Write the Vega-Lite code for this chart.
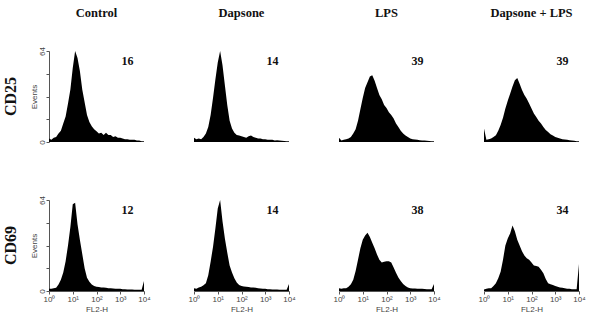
{
"$schema": "https://vega.github.io/schema/vega-lite/v6.json",
"padding": {"left": 3, "top": 6, "right": 2, "bottom": 5},
"background": "white",
"data": {"values": [
{"marker":"CD25","group":"Control","pct":"16"},
{"marker":"CD25","group":"Dapsone","pct":"14"},
{"marker":"CD25","group":"LPS","pct":"39"},
{"marker":"CD25","group":"Dapsone + LPS","pct":"39"},
{"marker":"CD69","group":"Control","pct":"12"},
{"marker":"CD69","group":"Dapsone","pct":"14"},
{"marker":"CD69","group":"LPS","pct":"38"},
{"marker":"CD69","group":"Dapsone + LPS","pct":"34"},
{"marker":"CD25","group":"Control","fl2":0,"events":2.5},{"marker":"CD25","group":"Control","fl2":0.1,"events":1.5},{"marker":"CD25","group":"Control","fl2":0.2,"events":3},{"marker":"CD25","group":"Control","fl2":0.3,"events":3.5},{"marker":"CD25","group":"Control","fl2":0.4,"events":6},{"marker":"CD25","group":"Control","fl2":0.5,"events":8},{"marker":"CD25","group":"Control","fl2":0.6,"events":13},{"marker":"CD25","group":"Control","fl2":0.7,"events":18},{"marker":"CD25","group":"Control","fl2":0.8,"events":27},{"marker":"CD25","group":"Control","fl2":0.9,"events":37},{"marker":"CD25","group":"Control","fl2":1.0,"events":52},{"marker":"CD25","group":"Control","fl2":1.1,"events":64},{"marker":"CD25","group":"Control","fl2":1.2,"events":59},{"marker":"CD25","group":"Control","fl2":1.3,"events":50},{"marker":"CD25","group":"Control","fl2":1.4,"events":37},{"marker":"CD25","group":"Control","fl2":1.5,"events":28},{"marker":"CD25","group":"Control","fl2":1.6,"events":19},{"marker":"CD25","group":"Control","fl2":1.7,"events":14},{"marker":"CD25","group":"Control","fl2":1.8,"events":11},{"marker":"CD25","group":"Control","fl2":1.9,"events":9},{"marker":"CD25","group":"Control","fl2":2.0,"events":7.5},{"marker":"CD25","group":"Control","fl2":2.1,"events":6},{"marker":"CD25","group":"Control","fl2":2.2,"events":6.5},{"marker":"CD25","group":"Control","fl2":2.3,"events":5},{"marker":"CD25","group":"Control","fl2":2.4,"events":6.5},{"marker":"CD25","group":"Control","fl2":2.5,"events":5},{"marker":"CD25","group":"Control","fl2":2.6,"events":5},{"marker":"CD25","group":"Control","fl2":2.7,"events":3.5},{"marker":"CD25","group":"Control","fl2":2.8,"events":4},{"marker":"CD25","group":"Control","fl2":2.9,"events":3},{"marker":"CD25","group":"Control","fl2":3.0,"events":3},{"marker":"CD25","group":"Control","fl2":3.1,"events":2.5},{"marker":"CD25","group":"Control","fl2":3.2,"events":2},{"marker":"CD25","group":"Control","fl2":3.3,"events":2},{"marker":"CD25","group":"Control","fl2":3.4,"events":1.5},{"marker":"CD25","group":"Control","fl2":3.5,"events":1.5},{"marker":"CD25","group":"Control","fl2":3.6,"events":1.5},{"marker":"CD25","group":"Control","fl2":3.7,"events":1},{"marker":"CD25","group":"Control","fl2":3.8,"events":1},{"marker":"CD25","group":"Control","fl2":3.9,"events":0.5},{"marker":"CD25","group":"Control","fl2":4.0,"events":0.5},
{"marker":"CD25","group":"Dapsone","fl2":0,"events":3},{"marker":"CD25","group":"Dapsone","fl2":0.1,"events":2},{"marker":"CD25","group":"Dapsone","fl2":0.2,"events":2.5},{"marker":"CD25","group":"Dapsone","fl2":0.3,"events":2},{"marker":"CD25","group":"Dapsone","fl2":0.4,"events":3.5},{"marker":"CD25","group":"Dapsone","fl2":0.5,"events":6},{"marker":"CD25","group":"Dapsone","fl2":0.6,"events":10.5},{"marker":"CD25","group":"Dapsone","fl2":0.7,"events":19},{"marker":"CD25","group":"Dapsone","fl2":0.8,"events":31},{"marker":"CD25","group":"Dapsone","fl2":0.9,"events":44},{"marker":"CD25","group":"Dapsone","fl2":1.0,"events":56},{"marker":"CD25","group":"Dapsone","fl2":1.1,"events":64},{"marker":"CD25","group":"Dapsone","fl2":1.2,"events":54},{"marker":"CD25","group":"Dapsone","fl2":1.3,"events":40},{"marker":"CD25","group":"Dapsone","fl2":1.4,"events":26},{"marker":"CD25","group":"Dapsone","fl2":1.5,"events":15},{"marker":"CD25","group":"Dapsone","fl2":1.6,"events":9.5},{"marker":"CD25","group":"Dapsone","fl2":1.7,"events":6.5},{"marker":"CD25","group":"Dapsone","fl2":1.8,"events":5},{"marker":"CD25","group":"Dapsone","fl2":1.9,"events":4.5},{"marker":"CD25","group":"Dapsone","fl2":2.0,"events":4},{"marker":"CD25","group":"Dapsone","fl2":2.1,"events":3.5},{"marker":"CD25","group":"Dapsone","fl2":2.2,"events":3},{"marker":"CD25","group":"Dapsone","fl2":2.3,"events":4},{"marker":"CD25","group":"Dapsone","fl2":2.4,"events":4.5},{"marker":"CD25","group":"Dapsone","fl2":2.5,"events":3.5},{"marker":"CD25","group":"Dapsone","fl2":2.6,"events":3},{"marker":"CD25","group":"Dapsone","fl2":2.7,"events":2.5},{"marker":"CD25","group":"Dapsone","fl2":2.8,"events":2.5},{"marker":"CD25","group":"Dapsone","fl2":2.9,"events":2},{"marker":"CD25","group":"Dapsone","fl2":3.0,"events":2},{"marker":"CD25","group":"Dapsone","fl2":3.1,"events":1.5},{"marker":"CD25","group":"Dapsone","fl2":3.2,"events":1.5},{"marker":"CD25","group":"Dapsone","fl2":3.3,"events":1.5},{"marker":"CD25","group":"Dapsone","fl2":3.4,"events":1},{"marker":"CD25","group":"Dapsone","fl2":3.5,"events":1.2},{"marker":"CD25","group":"Dapsone","fl2":3.6,"events":1},{"marker":"CD25","group":"Dapsone","fl2":3.7,"events":0.8},{"marker":"CD25","group":"Dapsone","fl2":3.8,"events":0.7},{"marker":"CD25","group":"Dapsone","fl2":3.9,"events":0.5},{"marker":"CD25","group":"Dapsone","fl2":4.0,"events":0.5},
{"marker":"CD25","group":"LPS","fl2":0,"events":3},{"marker":"CD25","group":"LPS","fl2":0.1,"events":1},{"marker":"CD25","group":"LPS","fl2":0.2,"events":1.5},{"marker":"CD25","group":"LPS","fl2":0.3,"events":2},{"marker":"CD25","group":"LPS","fl2":0.4,"events":2.5},{"marker":"CD25","group":"LPS","fl2":0.5,"events":3.5},{"marker":"CD25","group":"LPS","fl2":0.6,"events":6},{"marker":"CD25","group":"LPS","fl2":0.7,"events":9},{"marker":"CD25","group":"LPS","fl2":0.8,"events":15},{"marker":"CD25","group":"LPS","fl2":0.9,"events":23},{"marker":"CD25","group":"LPS","fl2":1.0,"events":31},{"marker":"CD25","group":"LPS","fl2":1.1,"events":38},{"marker":"CD25","group":"LPS","fl2":1.2,"events":42},{"marker":"CD25","group":"LPS","fl2":1.3,"events":46},{"marker":"CD25","group":"LPS","fl2":1.4,"events":47},{"marker":"CD25","group":"LPS","fl2":1.5,"events":43},{"marker":"CD25","group":"LPS","fl2":1.6,"events":38},{"marker":"CD25","group":"LPS","fl2":1.7,"events":33},{"marker":"CD25","group":"LPS","fl2":1.8,"events":30},{"marker":"CD25","group":"LPS","fl2":1.9,"events":26},{"marker":"CD25","group":"LPS","fl2":2.0,"events":24},{"marker":"CD25","group":"LPS","fl2":2.1,"events":21},{"marker":"CD25","group":"LPS","fl2":2.2,"events":19},{"marker":"CD25","group":"LPS","fl2":2.3,"events":16.5},{"marker":"CD25","group":"LPS","fl2":2.4,"events":13},{"marker":"CD25","group":"LPS","fl2":2.5,"events":10.5},{"marker":"CD25","group":"LPS","fl2":2.6,"events":8},{"marker":"CD25","group":"LPS","fl2":2.7,"events":6},{"marker":"CD25","group":"LPS","fl2":2.8,"events":4.5},{"marker":"CD25","group":"LPS","fl2":2.9,"events":3.5},{"marker":"CD25","group":"LPS","fl2":3.0,"events":2.5},{"marker":"CD25","group":"LPS","fl2":3.1,"events":2},{"marker":"CD25","group":"LPS","fl2":3.2,"events":1.8},{"marker":"CD25","group":"LPS","fl2":3.3,"events":1.5},{"marker":"CD25","group":"LPS","fl2":3.4,"events":1.3},{"marker":"CD25","group":"LPS","fl2":3.5,"events":1},{"marker":"CD25","group":"LPS","fl2":3.6,"events":1},{"marker":"CD25","group":"LPS","fl2":3.7,"events":0.8},{"marker":"CD25","group":"LPS","fl2":3.8,"events":0.7},{"marker":"CD25","group":"LPS","fl2":3.9,"events":0.5},{"marker":"CD25","group":"LPS","fl2":4.0,"events":0.5},
{"marker":"CD25","group":"Dapsone + LPS","fl2":0,"events":9.5},{"marker":"CD25","group":"Dapsone + LPS","fl2":0.1,"events":1.5},{"marker":"CD25","group":"Dapsone + LPS","fl2":0.2,"events":2},{"marker":"CD25","group":"Dapsone + LPS","fl2":0.3,"events":2.5},{"marker":"CD25","group":"Dapsone + LPS","fl2":0.4,"events":3.5},{"marker":"CD25","group":"Dapsone + LPS","fl2":0.5,"events":4.7},{"marker":"CD25","group":"Dapsone + LPS","fl2":0.6,"events":8},{"marker":"CD25","group":"Dapsone + LPS","fl2":0.7,"events":12},{"marker":"CD25","group":"Dapsone + LPS","fl2":0.8,"events":17},{"marker":"CD25","group":"Dapsone + LPS","fl2":0.9,"events":23.5},{"marker":"CD25","group":"Dapsone + LPS","fl2":1.0,"events":29},{"marker":"CD25","group":"Dapsone + LPS","fl2":1.1,"events":34},{"marker":"CD25","group":"Dapsone + LPS","fl2":1.2,"events":39},{"marker":"CD25","group":"Dapsone + LPS","fl2":1.3,"events":43.5},{"marker":"CD25","group":"Dapsone + LPS","fl2":1.4,"events":45},{"marker":"CD25","group":"Dapsone + LPS","fl2":1.5,"events":41},{"marker":"CD25","group":"Dapsone + LPS","fl2":1.6,"events":36.5},{"marker":"CD25","group":"Dapsone + LPS","fl2":1.7,"events":33},{"marker":"CD25","group":"Dapsone + LPS","fl2":1.8,"events":30.5},{"marker":"CD25","group":"Dapsone + LPS","fl2":1.9,"events":27},{"marker":"CD25","group":"Dapsone + LPS","fl2":2.0,"events":23.5},{"marker":"CD25","group":"Dapsone + LPS","fl2":2.1,"events":20},{"marker":"CD25","group":"Dapsone + LPS","fl2":2.2,"events":17.5},{"marker":"CD25","group":"Dapsone + LPS","fl2":2.3,"events":15},{"marker":"CD25","group":"Dapsone + LPS","fl2":2.4,"events":13},{"marker":"CD25","group":"Dapsone + LPS","fl2":2.5,"events":10.5},{"marker":"CD25","group":"Dapsone + LPS","fl2":2.6,"events":8.5},{"marker":"CD25","group":"Dapsone + LPS","fl2":2.7,"events":7},{"marker":"CD25","group":"Dapsone + LPS","fl2":2.8,"events":5.5},{"marker":"CD25","group":"Dapsone + LPS","fl2":2.9,"events":4.5},{"marker":"CD25","group":"Dapsone + LPS","fl2":3.0,"events":3.5},{"marker":"CD25","group":"Dapsone + LPS","fl2":3.1,"events":3},{"marker":"CD25","group":"Dapsone + LPS","fl2":3.2,"events":2.5},{"marker":"CD25","group":"Dapsone + LPS","fl2":3.3,"events":2},{"marker":"CD25","group":"Dapsone + LPS","fl2":3.4,"events":1.8},{"marker":"CD25","group":"Dapsone + LPS","fl2":3.5,"events":1.5},{"marker":"CD25","group":"Dapsone + LPS","fl2":3.6,"events":1.2},{"marker":"CD25","group":"Dapsone + LPS","fl2":3.7,"events":1},{"marker":"CD25","group":"Dapsone + LPS","fl2":3.8,"events":0.8},{"marker":"CD25","group":"Dapsone + LPS","fl2":3.9,"events":0.6},{"marker":"CD25","group":"Dapsone + LPS","fl2":4.0,"events":0.5},
{"marker":"CD69","group":"Control","fl2":0,"events":1.5},{"marker":"CD69","group":"Control","fl2":0.1,"events":1.5},{"marker":"CD69","group":"Control","fl2":0.2,"events":2},{"marker":"CD69","group":"Control","fl2":0.3,"events":2.3},{"marker":"CD69","group":"Control","fl2":0.4,"events":4.5},{"marker":"CD69","group":"Control","fl2":0.5,"events":8},{"marker":"CD69","group":"Control","fl2":0.6,"events":13},{"marker":"CD69","group":"Control","fl2":0.7,"events":21},{"marker":"CD69","group":"Control","fl2":0.8,"events":32},{"marker":"CD69","group":"Control","fl2":0.9,"events":45},{"marker":"CD69","group":"Control","fl2":1.0,"events":61},{"marker":"CD69","group":"Control","fl2":1.1,"events":62},{"marker":"CD69","group":"Control","fl2":1.2,"events":47},{"marker":"CD69","group":"Control","fl2":1.3,"events":36},{"marker":"CD69","group":"Control","fl2":1.4,"events":26},{"marker":"CD69","group":"Control","fl2":1.5,"events":16},{"marker":"CD69","group":"Control","fl2":1.6,"events":9.3},{"marker":"CD69","group":"Control","fl2":1.7,"events":6.5},{"marker":"CD69","group":"Control","fl2":1.8,"events":4.6},{"marker":"CD69","group":"Control","fl2":1.9,"events":3.5},{"marker":"CD69","group":"Control","fl2":2.0,"events":3},{"marker":"CD69","group":"Control","fl2":2.1,"events":2.8},{"marker":"CD69","group":"Control","fl2":2.2,"events":2.5},{"marker":"CD69","group":"Control","fl2":2.3,"events":2.5},{"marker":"CD69","group":"Control","fl2":2.4,"events":2.2},{"marker":"CD69","group":"Control","fl2":2.5,"events":2},{"marker":"CD69","group":"Control","fl2":2.6,"events":2},{"marker":"CD69","group":"Control","fl2":2.7,"events":1.8},{"marker":"CD69","group":"Control","fl2":2.8,"events":1.6},{"marker":"CD69","group":"Control","fl2":2.9,"events":1.5},{"marker":"CD69","group":"Control","fl2":3.0,"events":1.5},{"marker":"CD69","group":"Control","fl2":3.1,"events":1.3},{"marker":"CD69","group":"Control","fl2":3.2,"events":1.2},{"marker":"CD69","group":"Control","fl2":3.3,"events":1.1},{"marker":"CD69","group":"Control","fl2":3.4,"events":1},{"marker":"CD69","group":"Control","fl2":3.5,"events":1},{"marker":"CD69","group":"Control","fl2":3.6,"events":0.9},{"marker":"CD69","group":"Control","fl2":3.7,"events":0.8},{"marker":"CD69","group":"Control","fl2":3.8,"events":0.8},{"marker":"CD69","group":"Control","fl2":3.9,"events":0.8},{"marker":"CD69","group":"Control","fl2":4.0,"events":7},
{"marker":"CD69","group":"Dapsone","fl2":0,"events":2},{"marker":"CD69","group":"Dapsone","fl2":0.1,"events":1.5},{"marker":"CD69","group":"Dapsone","fl2":0.2,"events":2.5},{"marker":"CD69","group":"Dapsone","fl2":0.3,"events":3},{"marker":"CD69","group":"Dapsone","fl2":0.4,"events":4},{"marker":"CD69","group":"Dapsone","fl2":0.5,"events":5.4},{"marker":"CD69","group":"Dapsone","fl2":0.6,"events":11},{"marker":"CD69","group":"Dapsone","fl2":0.7,"events":20.6},{"marker":"CD69","group":"Dapsone","fl2":0.8,"events":31},{"marker":"CD69","group":"Dapsone","fl2":0.9,"events":44},{"marker":"CD69","group":"Dapsone","fl2":1.0,"events":58},{"marker":"CD69","group":"Dapsone","fl2":1.1,"events":64},{"marker":"CD69","group":"Dapsone","fl2":1.2,"events":49},{"marker":"CD69","group":"Dapsone","fl2":1.3,"events":37},{"marker":"CD69","group":"Dapsone","fl2":1.4,"events":27},{"marker":"CD69","group":"Dapsone","fl2":1.5,"events":18},{"marker":"CD69","group":"Dapsone","fl2":1.6,"events":13},{"marker":"CD69","group":"Dapsone","fl2":1.7,"events":9},{"marker":"CD69","group":"Dapsone","fl2":1.8,"events":6},{"marker":"CD69","group":"Dapsone","fl2":1.9,"events":4.2},{"marker":"CD69","group":"Dapsone","fl2":2.0,"events":3.5},{"marker":"CD69","group":"Dapsone","fl2":2.1,"events":3.2},{"marker":"CD69","group":"Dapsone","fl2":2.2,"events":3},{"marker":"CD69","group":"Dapsone","fl2":2.3,"events":2.8},{"marker":"CD69","group":"Dapsone","fl2":2.4,"events":2.5},{"marker":"CD69","group":"Dapsone","fl2":2.5,"events":2.5},{"marker":"CD69","group":"Dapsone","fl2":2.6,"events":2.2},{"marker":"CD69","group":"Dapsone","fl2":2.7,"events":2},{"marker":"CD69","group":"Dapsone","fl2":2.8,"events":1.8},{"marker":"CD69","group":"Dapsone","fl2":2.9,"events":1.6},{"marker":"CD69","group":"Dapsone","fl2":3.0,"events":1.5},{"marker":"CD69","group":"Dapsone","fl2":3.1,"events":1.3},{"marker":"CD69","group":"Dapsone","fl2":3.2,"events":1.2},{"marker":"CD69","group":"Dapsone","fl2":3.3,"events":1.1},{"marker":"CD69","group":"Dapsone","fl2":3.4,"events":1},{"marker":"CD69","group":"Dapsone","fl2":3.5,"events":1},{"marker":"CD69","group":"Dapsone","fl2":3.6,"events":0.9},{"marker":"CD69","group":"Dapsone","fl2":3.7,"events":0.8},{"marker":"CD69","group":"Dapsone","fl2":3.8,"events":0.8},{"marker":"CD69","group":"Dapsone","fl2":3.9,"events":0.8},{"marker":"CD69","group":"Dapsone","fl2":4.0,"events":5},
{"marker":"CD69","group":"LPS","fl2":0,"events":2},{"marker":"CD69","group":"LPS","fl2":0.1,"events":1.5},{"marker":"CD69","group":"LPS","fl2":0.2,"events":2},{"marker":"CD69","group":"LPS","fl2":0.3,"events":2},{"marker":"CD69","group":"LPS","fl2":0.4,"events":3},{"marker":"CD69","group":"LPS","fl2":0.5,"events":4.7},{"marker":"CD69","group":"LPS","fl2":0.6,"events":8},{"marker":"CD69","group":"LPS","fl2":0.7,"events":14},{"marker":"CD69","group":"LPS","fl2":0.8,"events":22},{"marker":"CD69","group":"LPS","fl2":0.9,"events":30},{"marker":"CD69","group":"LPS","fl2":1.0,"events":36},{"marker":"CD69","group":"LPS","fl2":1.1,"events":39},{"marker":"CD69","group":"LPS","fl2":1.2,"events":41},{"marker":"CD69","group":"LPS","fl2":1.3,"events":38},{"marker":"CD69","group":"LPS","fl2":1.4,"events":34},{"marker":"CD69","group":"LPS","fl2":1.5,"events":30},{"marker":"CD69","group":"LPS","fl2":1.6,"events":25.6},{"marker":"CD69","group":"LPS","fl2":1.7,"events":22},{"marker":"CD69","group":"LPS","fl2":1.8,"events":20},{"marker":"CD69","group":"LPS","fl2":1.9,"events":20.5},{"marker":"CD69","group":"LPS","fl2":2.0,"events":21},{"marker":"CD69","group":"LPS","fl2":2.1,"events":21},{"marker":"CD69","group":"LPS","fl2":2.2,"events":20},{"marker":"CD69","group":"LPS","fl2":2.3,"events":16.5},{"marker":"CD69","group":"LPS","fl2":2.4,"events":12.8},{"marker":"CD69","group":"LPS","fl2":2.5,"events":9.5},{"marker":"CD69","group":"LPS","fl2":2.6,"events":7},{"marker":"CD69","group":"LPS","fl2":2.7,"events":5},{"marker":"CD69","group":"LPS","fl2":2.8,"events":3.5},{"marker":"CD69","group":"LPS","fl2":2.9,"events":2.5},{"marker":"CD69","group":"LPS","fl2":3.0,"events":2},{"marker":"CD69","group":"LPS","fl2":3.1,"events":1.8},{"marker":"CD69","group":"LPS","fl2":3.2,"events":1.7},{"marker":"CD69","group":"LPS","fl2":3.3,"events":1.6},{"marker":"CD69","group":"LPS","fl2":3.4,"events":1.5},{"marker":"CD69","group":"LPS","fl2":3.5,"events":1.5},{"marker":"CD69","group":"LPS","fl2":3.6,"events":1.4},{"marker":"CD69","group":"LPS","fl2":3.7,"events":1.3},{"marker":"CD69","group":"LPS","fl2":3.8,"events":1.2},{"marker":"CD69","group":"LPS","fl2":3.9,"events":1.2},{"marker":"CD69","group":"LPS","fl2":4.0,"events":5},
{"marker":"CD69","group":"Dapsone + LPS","fl2":0,"events":1},{"marker":"CD69","group":"Dapsone + LPS","fl2":0.1,"events":1.5},{"marker":"CD69","group":"Dapsone + LPS","fl2":0.2,"events":2},{"marker":"CD69","group":"Dapsone + LPS","fl2":0.3,"events":2},{"marker":"CD69","group":"Dapsone + LPS","fl2":0.4,"events":3.5},{"marker":"CD69","group":"Dapsone + LPS","fl2":0.5,"events":5.4},{"marker":"CD69","group":"Dapsone + LPS","fl2":0.6,"events":9},{"marker":"CD69","group":"Dapsone + LPS","fl2":0.7,"events":13.6},{"marker":"CD69","group":"Dapsone + LPS","fl2":0.8,"events":22},{"marker":"CD69","group":"Dapsone + LPS","fl2":0.9,"events":32},{"marker":"CD69","group":"Dapsone + LPS","fl2":1.0,"events":37},{"marker":"CD69","group":"Dapsone + LPS","fl2":1.1,"events":40.5},{"marker":"CD69","group":"Dapsone + LPS","fl2":1.2,"events":46},{"marker":"CD69","group":"Dapsone + LPS","fl2":1.3,"events":42},{"marker":"CD69","group":"Dapsone + LPS","fl2":1.4,"events":36},{"marker":"CD69","group":"Dapsone + LPS","fl2":1.5,"events":32},{"marker":"CD69","group":"Dapsone + LPS","fl2":1.6,"events":28},{"marker":"CD69","group":"Dapsone + LPS","fl2":1.7,"events":25},{"marker":"CD69","group":"Dapsone + LPS","fl2":1.8,"events":23},{"marker":"CD69","group":"Dapsone + LPS","fl2":1.9,"events":22},{"marker":"CD69","group":"Dapsone + LPS","fl2":2.0,"events":20},{"marker":"CD69","group":"Dapsone + LPS","fl2":2.1,"events":18},{"marker":"CD69","group":"Dapsone + LPS","fl2":2.2,"events":17.5},{"marker":"CD69","group":"Dapsone + LPS","fl2":2.3,"events":17},{"marker":"CD69","group":"Dapsone + LPS","fl2":2.4,"events":15},{"marker":"CD69","group":"Dapsone + LPS","fl2":2.5,"events":12.4},{"marker":"CD69","group":"Dapsone + LPS","fl2":2.6,"events":8.5},{"marker":"CD69","group":"Dapsone + LPS","fl2":2.7,"events":5.4},{"marker":"CD69","group":"Dapsone + LPS","fl2":2.8,"events":4.8},{"marker":"CD69","group":"Dapsone + LPS","fl2":2.9,"events":4.2},{"marker":"CD69","group":"Dapsone + LPS","fl2":3.0,"events":3.5},{"marker":"CD69","group":"Dapsone + LPS","fl2":3.1,"events":3},{"marker":"CD69","group":"Dapsone + LPS","fl2":3.2,"events":2.5},{"marker":"CD69","group":"Dapsone + LPS","fl2":3.3,"events":2.2},{"marker":"CD69","group":"Dapsone + LPS","fl2":3.4,"events":2},{"marker":"CD69","group":"Dapsone + LPS","fl2":3.5,"events":1.5},{"marker":"CD69","group":"Dapsone + LPS","fl2":3.6,"events":1.5},{"marker":"CD69","group":"Dapsone + LPS","fl2":3.7,"events":1.3},{"marker":"CD69","group":"Dapsone + LPS","fl2":3.8,"events":1.2},{"marker":"CD69","group":"Dapsone + LPS","fl2":3.9,"events":1.2},{"marker":"CD69","group":"Dapsone + LPS","fl2":4.0,"events":19}
]},
"facet": {
  "row": {"field": "marker", "type": "nominal", "sort": ["CD25", "CD69"],
    "header": {"title": null, "labelAngle": -90, "labelOrient": "left", "labelAlign": "center", "labelBaseline": "bottom", "labelFont": "Liberation Serif", "labelFontWeight": "bold", "labelFontSize": 16, "labelColor": "#111", "labelPadding": -5}},
  "column": {"field": "group", "type": "nominal", "sort": ["Control", "Dapsone", "LPS", "Dapsone + LPS"],
    "header": {"title": null, "labelFont": "Liberation Serif", "labelFontWeight": "bold", "labelFontSize": 12.5, "labelColor": "#111", "labelPadding": 32}}
},
"spacing": {"row": 58, "column": 50},
"spec": {
  "width": 95,
  "height": 91,
  "encoding": {
    "x": {"type": "quantitative", "scale": {"domain": [0, 4], "nice": false},
      "axis": {"title": "FL2-H", "values": [0, 1, 2, 3, 4], "tickCount": 5, "labelExpr": "datum.value == 0 ? '10⁰' : datum.value == 1 ? '10¹' : datum.value == 2 ? '10²' : datum.value == 3 ? '10³' : '10⁴'", "labelOverlap": false, "labelFlush": false, "labelBound": false, "grid": false}},
    "y": {"type": "quantitative", "scale": {"domain": [0, 64], "nice": false},
      "axis": {"title": "Events", "values": [0, 16, 32, 48, 64], "labelExpr": "datum.value == 0 || datum.value == 64 ? datum.label : ''", "labelOverlap": false, "labelFlush": false, "labelAngle": -90, "labelAlign": "center", "labelBaseline": "bottom", "grid": false}}
  },
  "layer": [
    {
      "transform": [{"filter": "isValid(datum.events)"}],
      "mark": {"type": "area", "color": "#000", "interpolate": "linear"},
      "encoding": {
        "x": {"field": "fl2", "type": "quantitative", "scale": {"domain": [0, 4], "nice": false},
          "axis": {"title": "FL2-H", "values": [0, 1, 2, 3, 4], "tickCount": 5, "labelExpr": "datum.value == 0 ? '10⁰' : datum.value == 1 ? '10¹' : datum.value == 2 ? '10²' : datum.value == 3 ? '10³' : '10⁴'", "labelOverlap": false, "labelFlush": false, "labelBound": false, "grid": false}},
        "y": {"field": "events", "type": "quantitative", "scale": {"domain": [0, 64], "nice": false},
          "axis": {"title": "Events", "values": [0, 16, 32, 48, 64], "labelExpr": "datum.value == 0 || datum.value == 64 ? datum.label : ''", "labelOverlap": false, "labelFlush": false, "labelAngle": -90, "labelAlign": "center", "labelBaseline": "bottom", "grid": false}}
      }
    },
    {
      "transform": [{"filter": "isValid(datum.pct)"}],
      "mark": {"type": "text", "font": "Liberation Serif", "fontWeight": "bold", "fontSize": 12, "color": "#111"},
      "encoding": {
        "x": {"datum": 3.3, "type": "quantitative", "scale": {"domain": [0, 4], "nice": false},
          "axis": {"title": "FL2-H", "values": [0, 1, 2, 3, 4], "tickCount": 5, "labelExpr": "datum.value == 0 ? '10⁰' : datum.value == 1 ? '10¹' : datum.value == 2 ? '10²' : datum.value == 3 ? '10³' : '10⁴'", "labelOverlap": false, "labelFlush": false, "labelBound": false, "grid": false}},
        "y": {"datum": 57, "type": "quantitative"},
        "text": {"field": "pct", "type": "nominal"}
      }
    }
  ]
},
"config": {
  "view": {"stroke": null},
  "axis": {"labelFont": "Liberation Sans", "labelFontSize": 8, "labelColor": "#444", "titleFont": "Liberation Sans", "titleFontSize": 8, "titleFontWeight": "normal", "titleColor": "#444", "domainColor": "#555", "tickColor": "#555", "tickSize": 3, "labelPadding": 1, "titlePadding": 2, "labelOverlap": false},
  "axisY": {"titlePadding": 0, "labelPadding": 0}
}
}
